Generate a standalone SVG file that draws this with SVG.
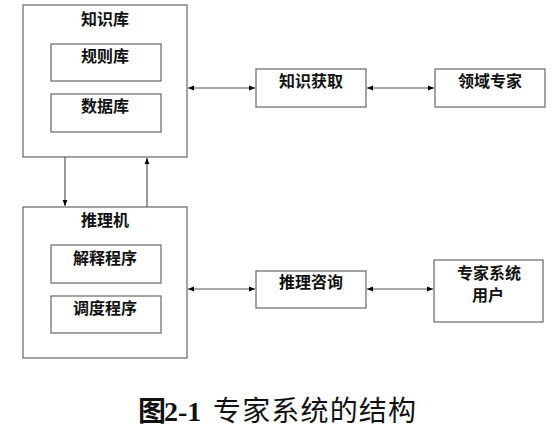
<svg xmlns="http://www.w3.org/2000/svg" width="554" height="428" viewBox="0 0 554 428">
<style>
.box{fill:#fff;stroke:#666;stroke-width:1.2}
.lbl{font-family:"Noto Sans CJK SC","Noto Sans",sans-serif;font-size:16px;font-weight:bold;fill:#111;text-anchor:middle}
.ln{stroke:#555;stroke-width:1.2;fill:none}
.cap{font-family:"Noto Sans CJK SC",sans-serif;font-size:28px;fill:#111}
</style>
<defs>
<marker id="ah" viewBox="0 0 10 10" refX="10" refY="5" markerWidth="6" markerHeight="6" orient="auto-start-reverse" markerUnits="userSpaceOnUse">
<path d="M0,1 L10,5 L0,9 z" fill="#000"/>
</marker>
</defs>
<rect width="554" height="428" fill="#fff"/>
<g id="kb">
<rect class="box" x="23" y="5" width="164" height="152"/>
<text class="lbl" x="105" y="25">知识库</text>
</g>
<g id="rules">
<rect class="box" x="51" y="44" width="110" height="37"/>
<text class="lbl" x="105" y="62">规则库</text>
</g>
<g id="data">
<rect class="box" x="51" y="94" width="110" height="38"/>
<text class="lbl" x="105" y="112">数据库</text>
</g>
<g id="engine">
<rect class="box" x="23" y="207" width="164" height="151"/>
<text class="lbl" x="105" y="226">推理机</text>
</g>
<g id="explain">
<rect class="box" x="51" y="245" width="110" height="38"/>
<text class="lbl" x="105" y="264">解释程序</text>
</g>
<g id="schedule">
<rect class="box" x="51" y="296" width="110" height="37"/>
<text class="lbl" x="105" y="314">调度程序</text>
</g>
<g id="acquire">
<rect class="box" x="256" y="69" width="110" height="38"/>
<text class="lbl" x="311" y="87">知识获取</text>
</g>
<g id="expert">
<rect class="box" x="435" y="69" width="110" height="38"/>
<text class="lbl" x="490" y="87">领域专家</text>
</g>
<g id="consult">
<rect class="box" x="256" y="271" width="110" height="37"/>
<text class="lbl" x="311" y="288">推理咨询</text>
</g>
<g id="user">
<rect class="box" x="434" y="260" width="109" height="62"/>
<text class="lbl" x="489" y="279">专家系统</text>
<text class="lbl" x="488" y="301">用户</text>
</g>
<g id="connectors">
<line class="ln" x1="188" y1="88" x2="255" y2="88" marker-start="url(#ah)" marker-end="url(#ah)"/>
<line class="ln" x1="367" y1="88" x2="434" y2="88" marker-start="url(#ah)" marker-end="url(#ah)"/>
<line class="ln" x1="188" y1="289" x2="255" y2="289" marker-start="url(#ah)" marker-end="url(#ah)"/>
<line class="ln" x1="367" y1="289" x2="433" y2="289" marker-start="url(#ah)" marker-end="url(#ah)"/>
<line class="ln" x1="65" y1="157" x2="65" y2="206" marker-end="url(#ah)"/>
<line class="ln" x1="147" y1="207" x2="147" y2="158" marker-end="url(#ah)"/>
</g>
<g id="caption">
<text class="cap" x="138" y="421" font-weight="bold">图</text>
<text x="164" y="421" font-family="Liberation Serif,serif" font-weight="bold" font-size="28" fill="#111">2-1</text>
<text class="cap" x="213" y="421" font-size="29" textLength="203">专家系统的结构</text>
</g>
</svg>
